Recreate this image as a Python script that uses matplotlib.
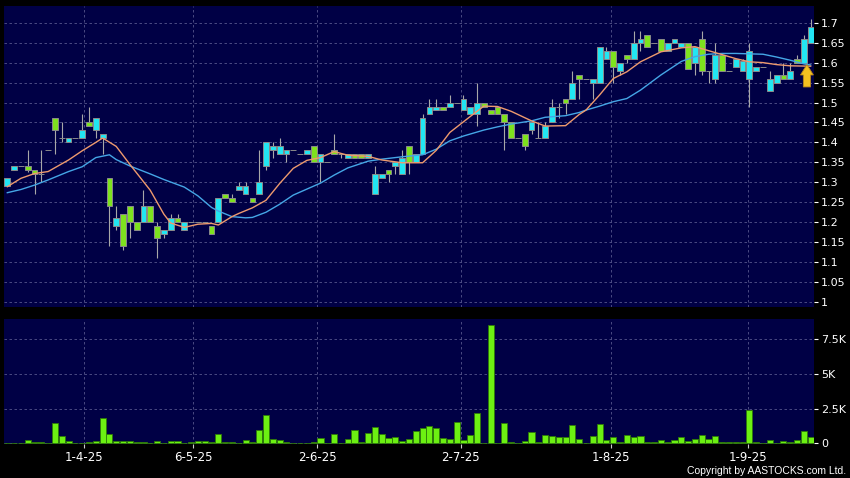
import matplotlib
matplotlib.use("Agg")
import matplotlib.pyplot as plt
from matplotlib.patches import FancyArrow
import numpy as np

# ---- data (one candle per traded day) ----
opens = [1.29, 1.33, 1.34, 1.34, 1.33, 1.32, 1.38, 1.46, 1.41, 1.40,
         1.41, 1.41, 1.45, 1.43, 1.41, 1.31, 1.19, 1.22, 1.24, 1.20,
         1.20, 1.24, 1.19, 1.17, 1.18, 1.21, 1.18, 1.20, 1.20, 1.20,
         1.19, 1.20, 1.27, 1.26, 1.28, 1.27, 1.26, 1.27, 1.34, 1.38,
         1.37, 1.37, 1.38, 1.37, 1.37, 1.39, 1.35, 1.35, 1.38, 1.37,
         1.36, 1.37, 1.37, 1.36, 1.27, 1.31, 1.33, 1.34, 1.32, 1.39,
         1.35, 1.37, 1.47, 1.48, 1.49, 1.49, 1.50, 1.48, 1.47, 1.47,
         1.50, 1.48, 1.49, 1.47, 1.45, 1.41, 1.42, 1.43, 1.41, 1.41,
         1.45, 1.49, 1.51, 1.51, 1.57, 1.56, 1.55, 1.55, 1.61, 1.63,
         1.58, 1.62, 1.61, 1.65, 1.67, 1.65, 1.66, 1.63, 1.65, 1.64,
         1.65, 1.60, 1.66, 1.58, 1.56, 1.62, 1.58, 1.59, 1.58, 1.56,
         1.58, 1.59, 1.53, 1.55, 1.57, 1.56, 1.61, 1.60, 1.65]
highs = [1.31, 1.34, 1.34, 1.38, 1.33, 1.38, 1.38, 1.46, 1.45, 1.41,
         1.41, 1.47, 1.49, 1.46, 1.42, 1.31, 1.24, 1.22, 1.24, 1.20,
         1.28, 1.24, 1.20, 1.18, 1.22, 1.22, 1.20, 1.20, 1.20, 1.20,
         1.19, 1.26, 1.27, 1.27, 1.30, 1.30, 1.26, 1.38, 1.40, 1.40,
         1.41, 1.38, 1.38, 1.37, 1.38, 1.39, 1.37, 1.35, 1.42, 1.37,
         1.37, 1.37, 1.37, 1.37, 1.34, 1.32, 1.33, 1.35, 1.38, 1.39,
         1.37, 1.47, 1.51, 1.51, 1.49, 1.52, 1.50, 1.52, 1.49, 1.55,
         1.50, 1.48, 1.49, 1.47, 1.45, 1.41, 1.42, 1.45, 1.45, 1.45,
         1.51, 1.50, 1.51, 1.58, 1.57, 1.56, 1.56, 1.64, 1.64, 1.63,
         1.60, 1.62, 1.68, 1.68, 1.67, 1.65, 1.66, 1.65, 1.66, 1.65,
         1.65, 1.64, 1.68, 1.58, 1.65, 1.62, 1.58, 1.61, 1.61, 1.65,
         1.59, 1.59, 1.58, 1.57, 1.60, 1.60, 1.62, 1.67, 1.71]
lows = [1.29, 1.33, 1.34, 1.325, 1.27, 1.30, 1.38, 1.37, 1.40, 1.40,
        1.41, 1.41, 1.44, 1.41, 1.37, 1.14, 1.18, 1.13, 1.16, 1.18,
        1.20, 1.20, 1.11, 1.16, 1.18, 1.20, 1.18, 1.20, 1.20, 1.20,
        1.17, 1.20, 1.26, 1.25, 1.28, 1.27, 1.25, 1.27, 1.33, 1.36,
        1.37, 1.35, 1.38, 1.37, 1.37, 1.35, 1.30, 1.35, 1.37, 1.36,
        1.36, 1.36, 1.36, 1.36, 1.27, 1.31, 1.30, 1.32, 1.32, 1.32,
        1.35, 1.37, 1.47, 1.48, 1.48, 1.49, 1.50, 1.48, 1.47, 1.44,
        1.49, 1.47, 1.47, 1.38, 1.41, 1.41, 1.38, 1.42, 1.41, 1.41,
        1.45, 1.46, 1.47, 1.51, 1.51, 1.56, 1.51, 1.55, 1.61, 1.55,
        1.57, 1.60, 1.61, 1.63, 1.64, 1.65, 1.63, 1.63, 1.65, 1.64,
        1.585, 1.57, 1.57, 1.55, 1.55, 1.58, 1.58, 1.59, 1.58, 1.49,
        1.58, 1.59, 1.53, 1.55, 1.56, 1.56, 1.60, 1.60, 1.65]
closes = [1.31, 1.34, 1.34, 1.33, 1.32, 1.32, 1.38, 1.43, 1.41, 1.41,
          1.41, 1.43, 1.44, 1.46, 1.42, 1.24, 1.21, 1.14, 1.20, 1.18,
          1.24, 1.20, 1.16, 1.18, 1.21, 1.20, 1.20, 1.20, 1.20, 1.20,
          1.17, 1.26, 1.26, 1.25, 1.29, 1.29, 1.25, 1.30, 1.40, 1.39,
          1.39, 1.38, 1.38, 1.37, 1.38, 1.35, 1.37, 1.35, 1.37, 1.37,
          1.37, 1.36, 1.36, 1.37, 1.32, 1.32, 1.32, 1.35, 1.36, 1.35,
          1.37, 1.46, 1.49, 1.49, 1.48, 1.50, 1.50, 1.51, 1.49, 1.50,
          1.49, 1.47, 1.47, 1.45, 1.41, 1.41, 1.39, 1.45, 1.41, 1.44,
          1.49, 1.49, 1.50, 1.55, 1.56, 1.56, 1.56, 1.64, 1.63, 1.59,
          1.60, 1.61, 1.65, 1.66, 1.64, 1.65, 1.63, 1.65, 1.66, 1.65,
          1.585, 1.64, 1.58, 1.58, 1.62, 1.58, 1.58, 1.61, 1.605, 1.63,
          1.59, 1.59, 1.56, 1.57, 1.56, 1.58, 1.60, 1.66, 1.69]
volumes = [50, 50, 0, 220, 120, 120, 0, 1490, 550, 170,
           20, 0, 100, 190, 1840, 650, 145, 145, 190, 70,
           70, 0, 170, 30, 145, 145, 0, 70, 145, 145,
           70, 675, 70, 120, 30, 217, 70, 930, 2020, 340,
           217, 100, 50, 50, 50, 100, 360, 0, 650, 0,
           280, 990, 85, 720, 1200, 700, 360, 460, 190, 310,
           900, 1110, 1240, 1110, 410, 310, 1540, 215, 600, 2190,
           20, 8520, 50, 1440, 120, 0, 170, 820, 72, 625,
           500, 460, 450, 1320, 340, 0, 530, 1400, 240, 460,
           70, 580, 480, 530, 70, 120, 215, 70, 240, 460,
           170, 290, 580, 310, 510, 70, 70, 70, 70, 2430,
           70, 0, 215, 0, 190, 96, 240, 915, 460]

# moving averages as drawn (read at selected candles)
ma_fast_idx = [0, 2, 4, 6, 9, 11, 13, 14, 16, 18, 21, 23, 24, 26, 28, 30, 31, 33,
               34, 36, 38, 40, 42, 44, 46, 48, 50, 53, 55, 58, 61, 63, 65, 68,
               70, 72, 74, 77, 79, 82, 84, 85, 87, 89, 91, 93, 96, 99, 101, 103,
               105, 107, 109, 111, 113, 115, 118]
ma_fast = [1.289, 1.31, 1.322, 1.327, 1.356, 1.379, 1.40, 1.411, 1.39, 1.345,
           1.28, 1.22, 1.198, 1.187, 1.195, 1.197, 1.193, 1.214, 1.222, 1.236,
           1.255, 1.297, 1.335, 1.355, 1.362, 1.377, 1.368, 1.365, 1.356, 1.349,
           1.349, 1.38, 1.425, 1.465, 1.491, 1.49, 1.478, 1.454, 1.441, 1.442,
           1.47, 1.481, 1.519, 1.56, 1.577, 1.602, 1.627, 1.637, 1.64, 1.63,
           1.62, 1.61, 1.602, 1.60, 1.595, 1.592, 1.591]
ma_slow_idx = [0, 2, 4, 6, 9, 11, 13, 15, 16, 18, 21, 23, 26, 28, 30, 31, 33, 35,
               36, 38, 40, 42, 44, 46, 48, 50, 53, 55, 58, 61, 63, 65, 67, 70,
               72, 74, 77, 79, 82, 84, 85, 87, 89, 91, 93, 96, 99, 101, 103, 105,
               107, 109, 111, 113, 115, 117, 118]
ma_slow = [1.274, 1.282, 1.293, 1.306, 1.327, 1.339, 1.362, 1.369, 1.357, 1.341,
           1.321, 1.307, 1.288, 1.266, 1.237, 1.228, 1.214, 1.211, 1.212, 1.225,
           1.245, 1.268, 1.283, 1.298, 1.318, 1.336, 1.353, 1.358, 1.364, 1.369,
           1.383, 1.404, 1.416, 1.431, 1.439, 1.446, 1.454, 1.463, 1.467, 1.475,
           1.481, 1.491, 1.502, 1.51, 1.531, 1.569, 1.603, 1.615, 1.621, 1.623,
           1.623, 1.622, 1.621, 1.614, 1.606, 1.597, 1.594]

date_labels = ["1-4-25", "6-5-25", "2-6-25", "2-7-25", "1-8-25", "1-9-25"]
date_pos = [11.2, 27.3, 45.5, 66.6, 88.6, 108.8]

price_ticks = [1.0 + 0.05 * k for k in range(15)]
vol_ticks = [0, 2500, 5000, 7500]
vol_tick_labels = ["0", "2.5K", "5K", "7.5K"]

BG = "#000045"
GRID = "#56568c"
UP = "#22E6F2"
DOWN = "#7EE21E"
EDGE = "#8a8a8a"

fig = plt.figure(figsize=(8.5, 4.78), dpi=100, facecolor="black")
ax = fig.add_axes([4 / 850, 1 - 307 / 478, 810 / 850, 301 / 478], facecolor=BG)
axv = fig.add_axes([4 / 850, 1 - 444 / 478, 810 / 850, 125 / 478], facecolor=BG)

x = np.arange(len(closes))
o = np.array(opens)
c = np.array(closes)
colors = [UP if cc > oo else (DOWN if cc < oo else EDGE) for oo, cc in zip(o, c)]

# price panel
ax.vlines(x, lows, highs, color="#a8a8a8", lw=0.8, zorder=2)
ax.bar(x, c - o, bottom=o, width=0.85, color=colors, edgecolor=EDGE, lw=0.7, zorder=3)
ax.plot(ma_slow_idx, ma_slow, color="#45A6E6", lw=1.0, zorder=4)
ax.plot(ma_fast_idx, ma_fast, color="#EE9A6E", lw=1.0, zorder=4)
ax.add_patch(FancyArrow(117.45, 1.539, 0, 0.056, width=1.05, head_width=1.9,
                        head_length=0.026, length_includes_head=True,
                        fc="#F4C020", ec="#B8861A", lw=0.6, zorder=5))

ax.set_xlim(-0.485, 118.49)
ax.set_ylim(0.9875, 1.7419)
ax.set_yticks(price_ticks)
ax.set_yticklabels([f"{t:g}" for t in np.round(price_ticks, 2)])
ax.set_xticks(date_pos)
ax.tick_params(axis="x", length=0, labelbottom=False)

# volume panel
axv.bar(x, volumes, width=0.9, color="#6CF012", edgecolor="#2E7A08", lw=0.6, zorder=3)
axv.set_xlim(-0.485, 118.49)
axv.set_ylim(-50, 8980)
axv.set_yticks(vol_ticks)
axv.set_yticklabels(vol_tick_labels)
axv.set_xticks(date_pos)
axv.set_xticklabels(date_labels)
axv.tick_params(axis="x", length=3, color="#cccccc", labelcolor="white",
                labelsize=8.5, pad=2)

for a in (ax, axv):
    a.yaxis.tick_right()
    a.tick_params(axis="y", length=3, color="white", labelcolor="white",
                  labelsize=8, pad=2)
    for s in a.spines.values():
        s.set_visible(False)
    a.grid(True, color=GRID, lw=0.6, linestyle=(0, (3, 3)), zorder=1)
    a.set_axisbelow(True)

fig.text(846 / 850, 1 - 471 / 478, "Copyright by AASTOCKS.com Ltd.", ha="right",
         va="center", color="white", fontsize=7.5, family="Liberation Sans")

fig.savefig("out.png", dpi=100, facecolor="black")
